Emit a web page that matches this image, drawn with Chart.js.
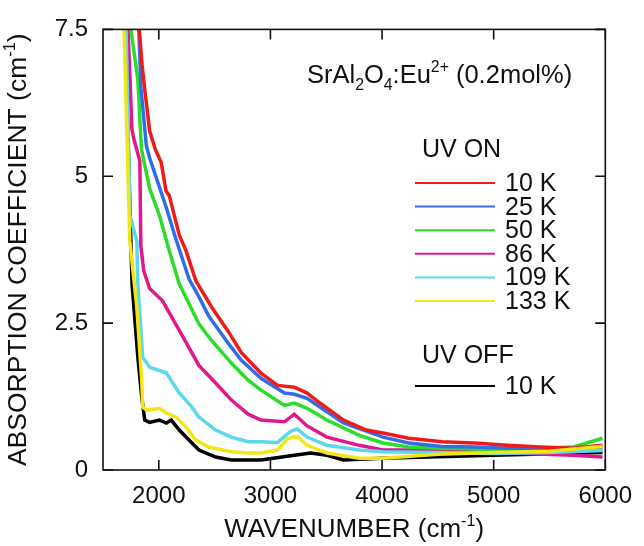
<!DOCTYPE html>
<html>
<head>
<meta charset="utf-8">
<script src="https://cdn.jsdelivr.net/npm/chart.js@4.4.0/dist/chart.umd.min.js"></script>
<style>
html, body { margin: 0; padding: 0; background: #fff; }
#wrap { width: 644px; height: 546px; }
</style>
</head>
<body>
<div id="wrap"><canvas id="absChart"></canvas></div>
<script>
// wavenumber (cm-1), absorption coefficient (cm-1)
const uvOn10K = [[1825,7.5],[1850,6.9],[1874,6.48],[1918,5.77],[1970,5.45],[2021,5.24],[2065,4.75],[2094,4.67],[2183,4.0],[2244,3.73],[2332,3.22],[2474,2.77],[2625,2.35],[2738,2.0],[2915,1.65],[3064,1.44],[3214,1.41],[3329,1.31],[3443,1.14],[3655,0.85],[3858,0.68],[4008,0.63],[4238,0.54],[4537,0.48],[4828,0.46],[5119,0.42],[5419,0.39],[5710,0.37],[5975,0.42]]
const uvOn25K = [[1821,7.5],[1840,6.5],[1889,5.51],[1918,5.31],[2068,4.46],[2150,3.95],[2271,3.25],[2359,2.95],[2447,2.62],[2625,2.15],[2738,1.87],[2915,1.56],[3126,1.31],[3214,1.29],[3329,1.22],[3443,1.07],[3655,0.80],[4008,0.56],[4238,0.46],[4537,0.40],[4828,0.39],[5119,0.37],[5419,0.37],[5710,0.36],[5975,0.38]]
const uvOn50K = [[1750,7.5],[1812,6.65],[1830,5.97],[1845,5.46],[1918,4.79],[2006,4.33],[2094,3.73],[2183,3.17],[2271,2.83],[2359,2.49],[2474,2.2],[2650,1.82],[2800,1.53],[2915,1.36],[3126,1.10],[3214,1.14],[3329,1.05],[3505,0.85],[3796,0.59],[4008,0.46],[4238,0.39],[4537,0.37],[5119,0.34],[5710,0.39],[5975,0.54]]
const uvOn86K = [[1724,7.5],[1742,6.65],[1759,5.80],[1777,5.63],[1830,5.26],[1839,3.82],[1865,3.39],[1918,3.09],[2033,2.88],[2209,2.29],[2359,1.78],[2509,1.48],[2650,1.19],[2800,0.95],[2915,0.85],[3126,0.82],[3214,0.95],[3329,0.75],[3505,0.56],[3796,0.42],[4008,0.34],[4238,0.34],[4828,0.31],[5710,0.25],[5975,0.22]]
const uvOn109K = [[1707,7.5],[1742,4.33],[1803,3.90],[1812,3.17],[1856,1.92],[1918,1.75],[2068,1.65],[2183,1.31],[2297,1.07],[2359,0.90],[2509,0.68],[2650,0.56],[2800,0.48],[2915,0.48],[3064,0.47],[3180,0.66],[3240,0.70],[3329,0.56],[3505,0.42],[3796,0.34],[4008,0.31],[4500,0.30],[5000,0.28],[5500,0.30],[5975,0.33]]
const uvOn133K = [[1689,7.5],[1740,3.9],[1803,2.77],[1847,1.53],[1856,1.07],[1892,1.02],[2006,1.05],[2068,0.97],[2156,0.90],[2244,0.73],[2332,0.51],[2447,0.39],[2650,0.31],[2800,0.29],[2915,0.29],[3064,0.34],[3150,0.53],[3240,0.57],[3329,0.42],[3505,0.29],[3796,0.20],[4008,0.20],[4500,0.27],[5000,0.30],[5500,0.32],[5975,0.40]]
const uvOff10K = [[1698,7.5],[1760,3.17],[1812,1.92],[1847,1.24],[1874,0.85],[1918,0.81],[2006,0.85],[2068,0.80],[2112,0.85],[2183,0.68],[2297,0.46],[2359,0.34],[2509,0.22],[2650,0.17],[2915,0.17],[3214,0.25],[3360,0.29],[3505,0.25],[3655,0.17],[4000,0.2],[5000,0.25],[5975,0.3]]

const xTicks = [2000, 3000, 4000, 5000, 6000]
const yTicks = [0, 2.5, 5, 7.5]
const yTickLabels = ['0', '2.5', '5', '7.5']

const onLabels = ['10 K', '25 K', '50 K', '86 K', '109 K', '133 K']
const offLabels = ['10 K']
const onColors = ['#ef1b1b', '#2f6ee8', '#2bdc2b', '#e0188c', '#5ad8ee', '#f2e617']
const offColors = ['#000000']

const FONT = '"Liberation Sans", Arial, sans-serif'

function toXY(arr) {
    return arr.map(p => ({ x: p[0], y: p[1] }))
}

function line(label, data, color, order) {
    return {
        label: label,
        data: toXY(data),
        borderColor: color,
        backgroundColor: color,
        borderWidth: 3.5,
        pointRadius: 0,
        fill: false,
        tension: 0,
        order: order,
    }
}

// text with sub/superscripts: parts = [[text, 'sub'|'sup'|undefined], ...]
function drawRich(ctx, parts, x, y, size, align) {
    const small = size * 0.62
    let w = 0
    parts.forEach(p => {
        ctx.font = (p[1] ? small : size) + 'px ' + FONT
        w += ctx.measureText(p[0]).width
    })
    let cx = align === 'center' ? x - w / 2 : x
    ctx.textAlign = 'left'
    ctx.textBaseline = 'alphabetic'
    parts.forEach(p => {
        ctx.font = (p[1] ? small : size) + 'px ' + FONT
        let dy = 0
        if (p[1] === 'sub') dy = size * 0.28
        if (p[1] === 'sup') dy = -size * 0.42
        ctx.fillText(p[0], cx, y + dy)
        cx += ctx.measureText(p[0]).width
    })
}

const framePlugin = {
    id: 'frame',
    afterDraw(chart) {
        const ctx = chart.ctx
        const a = chart.chartArea
        const xs = chart.scales.x
        const ys = chart.scales.y
        ctx.save()
        ctx.strokeStyle = '#111'
        ctx.lineWidth = 1.6
        ctx.strokeRect(a.left, a.top, a.right - a.left, a.bottom - a.top)
        ctx.beginPath()
        xTicks.forEach(v => {
            const px = xs.getPixelForValue(v)
            ctx.moveTo(px, a.bottom); ctx.lineTo(px, a.bottom - 10)
            ctx.moveTo(px, a.top); ctx.lineTo(px, a.top + 10)
        })
        yTicks.forEach(v => {
            const py = ys.getPixelForValue(v)
            ctx.moveTo(a.left, py); ctx.lineTo(a.left + 10, py)
            ctx.moveTo(a.right, py); ctx.lineTo(a.right - 10, py)
        })
        ctx.stroke()

        ctx.fillStyle = '#111'
        // axis titles
        drawRich(ctx, [['WAVENUMBER (cm'], ['-1', 'sup'], [')']], (a.left + a.right) / 2, 537, 26, 'center')
        ctx.save()
        ctx.translate(26, (a.top + a.bottom) / 2)
        ctx.rotate(-Math.PI / 2)
        drawRich(ctx, [['ABSORPTION COEFFICIENT (cm'], ['-1', 'sup'], [')']], 0, 0, 26.5, 'center')
        ctx.restore()

        // sample label
        drawRich(ctx, [['SrAl'], ['2', 'sub'], ['O'], ['4', 'sub'], [':Eu'], ['2+', 'sup'], [' (0.2mol%)']], 307, 83, 25.5)

        // legend
        drawRich(ctx, [['UV ON']], 422, 157, 25)
        ctx.lineWidth = 2
        onLabels.forEach((lab, i) => {
            const y = 183 + i * 23.6
            ctx.strokeStyle = onColors[i]
            ctx.beginPath(); ctx.moveTo(415, y); ctx.lineTo(495, y); ctx.stroke()
            ctx.fillStyle = '#111'
            drawRich(ctx, [[lab]], 505, y + 8, 25)
        })
        drawRich(ctx, [['UV OFF']], 422, 363, 25)
        offLabels.forEach((lab, i) => {
            const y = 386 + i * 23.6
            ctx.strokeStyle = offColors[i]
            ctx.beginPath(); ctx.moveTo(415, y); ctx.lineTo(495, y); ctx.stroke()
            drawRich(ctx, [[lab]], 505, y + 8, 25)
        })
        ctx.restore()
    }
}

new Chart(document.getElementById('absChart'), {
    type: 'line',
    data: {
        datasets: [
            line('UV ON 133 K', uvOn133K, onColors[5], 0),
            line('UV ON 109 K', uvOn109K, onColors[4], 1),
            line('UV ON 10 K', uvOn10K, onColors[0], 2),
            line('UV ON 25 K', uvOn25K, onColors[1], 3),
            line('UV ON 50 K', uvOn50K, onColors[2], 4),
            line('UV ON 86 K', uvOn86K, onColors[3], 5),
            line('UV OFF 10 K', uvOff10K, offColors[0], 6),
        ]
    },
    options: {
        responsive: true,
        maintainAspectRatio: false,
        animation: false,
        devicePixelRatio: 1,
        layout: { padding: { left: 0, right: 31, top: 28, bottom: 0 } },
        plugins: { legend: { display: false }, tooltip: { enabled: false } },
        scales: {
            x: {
                type: 'linear',
                min: 1500,
                max: 6000,
                afterBuildTicks: s => { s.ticks = xTicks.map(v => ({ value: v })) },
                afterFit: s => { s.height = 76 },
                grid: { display: false, drawTicks: false },
                border: { display: false },
                ticks: {
                    color: '#111', padding: 12, maxRotation: 0, font: { family: FONT, size: 24 },
                    callback: (v) => String(v),
                },
            },
            y: {
                min: 0,
                max: 7.5,
                afterBuildTicks: s => { s.ticks = yTicks.map(v => ({ value: v })) },
                afterFit: s => { s.width = 103 },
                grid: { display: false, drawTicks: false },
                border: { display: false },
                ticks: {
                    color: '#111', padding: 15, font: { family: FONT, size: 24 },
                    callback: (v) => yTickLabels[yTicks.indexOf(v)],
                },
            },
        },
    },
    plugins: [framePlugin],
})
</script>
</body>
</html>
